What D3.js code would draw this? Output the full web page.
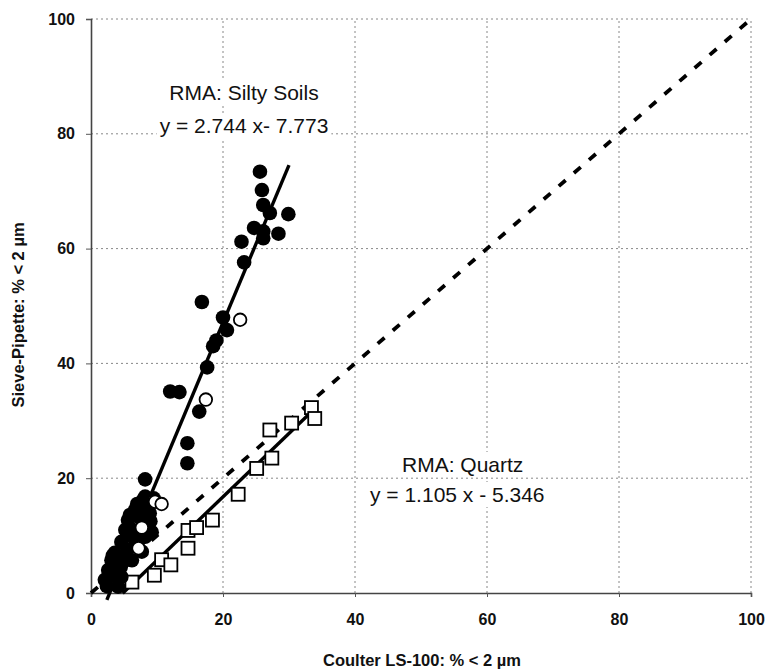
<!DOCTYPE html>
<html>
<head>
<meta charset="utf-8">
<script src="https://cdn.jsdelivr.net/npm/d3@7"></script>
<style>
  body { margin: 0; background: #fff; }
  text { font-family: "Liberation Sans", Arial, sans-serif; }
</style>
</head>
<body>
<div id="chart"></div>
<script>
var w = 769;
var h = 670;
var margin = {left: 91, right: 18, top: 19, bottom: 77};

// silty soils, filled circles [coulter, pipette]
var siltyFilled = [
    [25.6, 73.4], [25.9, 70.2], [26.1, 67.6], [27.1, 66.2], [29.9, 66.0], [24.7, 63.6],
    [26.1, 63.0], [28.4, 62.6], [26.1, 61.8], [22.8, 61.2], [23.2, 57.6], [16.8, 50.7],
    [20.0, 48.0], [20.6, 45.8], [19.0, 44.0], [18.5, 43.0], [17.6, 39.3], [12.0, 35.1],
    [13.4, 35.0], [16.4, 31.6], [14.6, 26.1], [14.6, 22.6], [8.2, 19.8], [8.2, 16.8],
    [6.7, 14.5], [8.9, 13.9], [5.6, 12.7], [5.2, 11.0], [8.2, 9.8], [4.6, 8.9],
    [7.7, 7.2], [3.6, 7.0], [3.1, 5.7], [6.2, 5.7], [2.6, 4.0], [2.1, 2.3],
    [4.6, 2.8], [4.1, 1.1], [2.4, 1.2], [3.3, 6.5], [5.9, 11.3], [5.9, 13.6],
    [7.9, 16.2], [8.6, 14.5], [9.2, 10.6], [5.2, 5.7], [6.7, 8.4], [9.0, 12.5],
    [7.5, 13.0], [4.5, 4.5], [3.0, 3.0], [6.0, 10.0], [8.0, 11.0], [9.5, 16.5], [7.0, 15.5],
    [5.5, 7.5], [6.8, 10.5], [4.2, 6.0], [7.3, 9.3]
];
// silty soils, open circles
var siltyOpen = [
    [9.7, 15.9], [10.7, 15.5], [7.7, 11.4], [7.2, 7.8], [17.4, 33.7], [22.6, 47.6]
];
// quartz, open squares
var quartz = [
    [3.6, 2.0], [6.2, 1.9], [9.6, 3.1], [10.7, 5.8], [12.1, 4.9], [14.7, 7.8],
    [14.7, 10.9], [16.0, 11.4], [18.4, 12.7], [22.3, 17.2], [25.1, 21.7], [27.4, 23.5],
    [27.1, 28.4], [30.4, 29.6], [33.4, 32.3], [33.9, 30.4]
];
// RMA fits: slope, intercept, x range
var siltyFit = {slope: 2.744, intercept: -7.773, from: 2.4, to: 30};
var quartzFit = {slope: 1.105, intercept: -5.346, from: 4.8, to: 34};
var ticks = [0, 20, 40, 60, 80, 100];

var svg = d3.select("#chart").append("svg")
    .attr("width", w)
    .attr("height", h);

var xScale = d3.scaleLinear().domain([0, 100]).range([margin.left, w - margin.right]);
var yScale = d3.scaleLinear().domain([0, 100]).range([h - margin.bottom, margin.top]);

// grid
var grid = svg.append("g").attr("class", "grid");
grid.selectAll(".gx")
    .data(ticks.slice(1))
    .enter().append("line")
    .attr("x1", function(d) { return xScale(d); })
    .attr("x2", function(d) { return xScale(d); })
    .attr("y1", yScale(0))
    .attr("y2", yScale(100))
    .attr("stroke", "#888")
    .attr("stroke-width", 1)
    .attr("stroke-dasharray", "2,3");
grid.selectAll(".gy")
    .data(ticks.slice(1))
    .enter().append("line")
    .attr("x1", xScale(0))
    .attr("x2", xScale(100))
    .attr("y1", function(d) { return yScale(d); })
    .attr("y2", function(d) { return yScale(d); })
    .attr("stroke", "#888")
    .attr("stroke-width", 1)
    .attr("stroke-dasharray", "2,3");

// axes
var xAxis = d3.axisBottom(xScale).tickValues(ticks).tickSize(4).tickPadding(17);
var yAxis = d3.axisLeft(yScale).tickValues(ticks).tickSize(5).tickPadding(11);

var gx = svg.append("g")
    .attr("transform", "translate(0," + yScale(0) + ")")
    .call(xAxis);
var gy = svg.append("g")
    .attr("transform", "translate(" + xScale(0) + ",0)")
    .call(yAxis);

[gx, gy].forEach(function(g) {
    g.select(".domain").attr("stroke", "#444").attr("stroke-width", 1.6);
    g.selectAll(".tick line").attr("stroke", "#555");
    g.selectAll(".tick text")
        .attr("fill", "#111")
        .style("font-size", "16px")
        .style("font-weight", "bold")
        .style("font-family", "'Liberation Sans', Arial, sans-serif");
});

// label boxes (white behind text, hiding grid)
function label(lines, x, y, anchor) {
    var g = svg.append("g");
    var texts = lines.map(function(t, i) {
        return g.append("text")
            .attr("x", x[i])
            .attr("y", y[i])
            .attr("text-anchor", anchor)
            .attr("fill", "#111")
            .style("font-size", "21px")
            .text(t);
    });
    texts.forEach(function(t) {
        var b = t.node().getBBox();
        g.insert("rect", "text")
            .attr("x", b.x - 3)
            .attr("y", b.y - 1)
            .attr("width", b.width + 6)
            .attr("height", b.height + 2)
            .attr("fill", "#fff");
    });
}

label(["RMA: Silty Soils", "y = 2.744 x- 7.773"], [244, 244], [100, 133], "middle");
label(["RMA: Quartz", "y = 1.105 x - 5.346"], [402, 370], [472, 502], "start");

// lines
var line = d3.line()
    .x(function(d) { return xScale(d[0]); })
    .y(function(d) { return yScale(d[1]); });

svg.append("path")
    .datum([[0, 0], [100, 100]])
    .attr("d", line)
    .attr("fill", "none")
    .attr("stroke", "#000")
    .attr("stroke-width", 3.8)
    .attr("stroke-dasharray", "9,11");

[siltyFit, quartzFit].forEach(function(f) {
    svg.append("path")
        .datum([[f.from, f.slope * f.from + f.intercept], [f.to, f.slope * f.to + f.intercept]])
        .attr("d", line)
        .attr("fill", "none")
        .attr("stroke", "#000")
        .attr("stroke-width", 3.4);
});

// markers
svg.append("g").selectAll("rect")
    .data(quartz)
    .enter().append("rect")
    .attr("x", function(d) { return xScale(d[0]) - 6.5; })
    .attr("y", function(d) { return yScale(d[1]) - 6.5; })
    .attr("width", 13)
    .attr("height", 13)
    .attr("fill", "#fff")
    .attr("stroke", "#000")
    .attr("stroke-width", 1.8);

svg.append("g").selectAll("circle")
    .data(siltyFilled)
    .enter().append("circle")
    .attr("cx", function(d) { return xScale(d[0]); })
    .attr("cy", function(d) { return yScale(d[1]); })
    .attr("r", 7.3)
    .attr("fill", "#000");

svg.append("g").selectAll("circle")
    .data(siltyOpen)
    .enter().append("circle")
    .attr("cx", function(d) { return xScale(d[0]); })
    .attr("cy", function(d) { return yScale(d[1]); })
    .attr("r", 6.3)
    .attr("fill", "#fff")
    .attr("stroke", "#000")
    .attr("stroke-width", 1.8);

// axis titles
svg.append("text")
    .attr("x", 422)
    .attr("y", 666)
    .attr("text-anchor", "middle")
    .attr("fill", "#111")
    .style("font-size", "16.5px")
    .style("font-weight", "bold")
    .text("Coulter LS-100: % < 2 µm");

svg.append("text")
    .attr("transform", "translate(24,315) rotate(-90)")
    .attr("text-anchor", "middle")
    .attr("fill", "#111")
    .style("font-size", "16.5px")
    .style("font-weight", "bold")
    .text("Sieve-Pipette: % < 2 µm");
</script>
</body>
</html>
